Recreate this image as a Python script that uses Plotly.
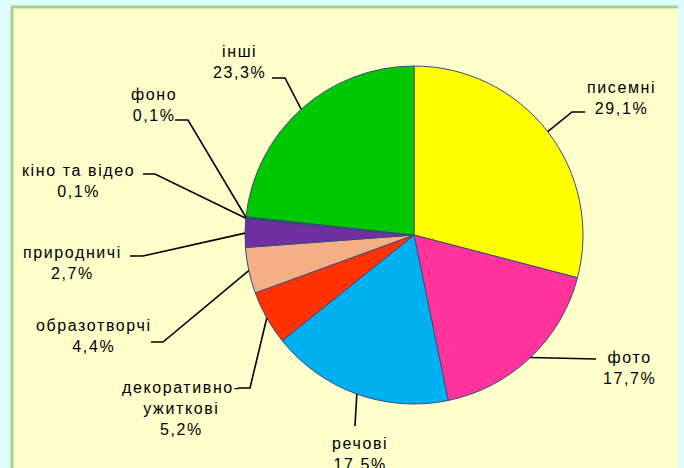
import math
import plotly.graph_objects as go

# ---- data ----
categories = ["писемні", "фото", "речові", "декоративно-ужиткові", "образотворчі",
              "природничі", "кіно та відео", "фоно", "інші"]
values = [29.1, 17.7, 17.5, 5.2, 4.4, 2.7, 0.1, 0.1, 23.3]
value_labels = ["29,1%", "17,7%", "17,5%", "5,2%", "4,4%", "2,7%", "0,1%", "0,1%", "23,3%"]
label_names = ["писемні", "фото", "речові", "декоративно-<br>ужиткові", "образотворчі",
               "природничі", "кіно та відео", "фоно", "інші"]
colors = ["#ffff00", "#ff3399", "#00b0f0", "#ff3300", "#f4b084",
          "#7030a0", "#1f3d7a", "#0b2a6e", "#00c800"]

# ---- layout (pixels) ----
W, H = 684, 468
CX, CY, R = 414, 235, 169
# label block centres and leader-line bend points (pixel coords)
label_pos = [(621, 98), (629, 368), (360, 454), (181, 408), (94, 336),
             (72, 263), (78, 181), (154, 105), (239, 62)]
leader_bends = [
    [(572, 112), (585, 112)],
    [(596, 359)],
    [(355, 426)],
    [(250, 388), (238, 388)],
    [(163, 342), (151, 342)],
    [(143, 256), (130, 256)],
    [(155, 174), (143, 174)],
    [(188, 120), (175, 120)],
    [(285, 78), (272, 78)],
]


def px(x):
    return x / W


def py(y):
    return 1 - y / H


fig = go.Figure(go.Pie(
    labels=categories,
    values=values,
    sort=False,
    direction="clockwise",
    rotation=0,
    textinfo="none",
    hoverinfo="label+percent",
    marker=dict(colors=colors, line=dict(color="#3b4a7a", width=1)),
    domain=dict(x=[px(CX - R), px(CX + R)], y=[py(CY + R), py(CY - R)]),
    showlegend=False,
))

shapes = [
    dict(type="rect", xref="paper", yref="paper", layer="below",
         x0=px(11), x1=px(678), y0=py(H + 5), y1=py(6),
         fillcolor="#ffffcc", line=dict(width=0)),
    dict(type="line", xref="paper", yref="paper", layer="below",
         x0=px(12), x1=px(12), y0=py(H + 5), y1=py(6),
         line=dict(color="#a9d18e", width=3)),
    dict(type="line", xref="paper", yref="paper", layer="below",
         x0=px(11), x1=px(678), y0=py(7), y1=py(7),
         line=dict(color="#a9d18e", width=3)),
]

SPACED = '<span style="letter-spacing:1.6px">{}</span>'

annotations = []
total = sum(values)
cum = 0.0
for i, v in enumerate(values):
    mid = (cum + v / 2) / total * 2 * math.pi
    cum += v
    ex = CX + R * math.sin(mid)
    ey = CY - R * math.cos(mid)
    pts = [(ex, ey)] + leader_bends[i]
    path = "M " + " L ".join(f"{px(x)},{py(y)}" for x, y in pts)
    shapes.append(dict(type="path", xref="paper", yref="paper", path=path,
                       line=dict(color="black", width=1.6)))
    lx, ly = label_pos[i]
    lines = label_names[i].split("<br>") + [value_labels[i]]
    text = "<br>".join(SPACED.format(s) for s in lines)
    annotations.append(dict(
        x=px(lx), y=py(ly), xref="paper", yref="paper",
        text=text,
        showarrow=False, xanchor="center", yanchor="middle", align="center",
        font=dict(family="Liberation Sans, Arial, sans-serif", size=16, color="black"),
    ))

fig.update_layout(
    width=W, height=H,
    margin=dict(l=0, r=0, t=0, b=0),
    paper_bgcolor="#dcfcfe",
    plot_bgcolor="#dcfcfe",
    shapes=shapes,
    annotations=annotations,
)

fig.write_html(
    "out.html",
    config={"displayModeBar": False},
    post_script="document.body.style.margin='0';document.body.style.overflow='hidden';",
)
